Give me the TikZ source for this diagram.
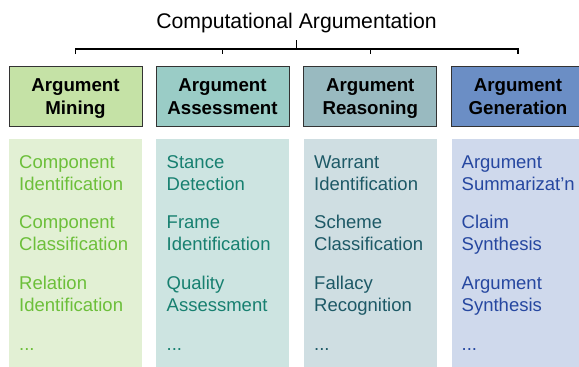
\documentclass[tikz,border=0pt]{standalone}
\usepackage{fontspec}
\setmainfont{Liberation Sans}
\definecolor{hA}{HTML}{C5E2A6}
\definecolor{pA}{HTML}{E2F0D4}
\definecolor{tA}{HTML}{6CBF3A}
\definecolor{hB}{HTML}{9ACCC6}
\definecolor{pB}{HTML}{CDE4E1}
\definecolor{tB}{HTML}{178070}
\definecolor{hC}{HTML}{99BAC0}
\definecolor{pC}{HTML}{CFDEE2}
\definecolor{tC}{HTML}{1D5966}
\definecolor{hD}{HTML}{6B8EC5}
\definecolor{pD}{HTML}{CFD9EC}
\definecolor{tD}{HTML}{2647A0}
\tikzset{
  headbox/.style={draw=black!80, line width=1pt, minimum width=133pt, minimum height=60.5pt, inner sep=0pt, align=center, font=\bfseries\fontsize{18.7}{23}\selectfont},
  panel/.style={minimum width=133pt, minimum height=229pt, inner sep=0pt, anchor=north west},
  item/.style={anchor=base west, inner sep=0pt, font=\fontsize{18.5}{22}\selectfont},
  bracket/.style={line width=1.6pt}
}
\begin{document}
\begin{tikzpicture}[x=1pt,y=-1pt]
\clip (0,0) rectangle (579,367);
\fill[white] (0,0) rectangle (579,367);
\node[anchor=base, inner sep=0pt, font=\fontsize{21.2}{25}\selectfont] (title) at (296.5,28.3) {Computational Argumentation};
% headers
\node[headbox, fill=hA] (h1) at (75.5,96.3) {Argument\\\smash{Mining}};
\node[headbox, fill=hB] (h2) at (222.5,96.3) {Argument\\\smash{Assessment}};
\node[headbox, fill=hC] (h3) at (370.3,96.3) {Argument\\\smash{Reasoning}};
\node[headbox, fill=hD] (h4) at (518,96.3) {Argument\\\smash{Generation}};
% panels
\node[panel, fill=pA] (p1) at (9,138.3) {};
\node[panel, fill=pB] (p2) at (156,138.3) {};
\node[panel, fill=pC] (p3) at (304,138.3) {};
\node[panel, fill=pD] (p4) at (451.5,138.3) {};
% bracket
\coordinate (top) at (296.5,40);
\coordinate (bar) at (296.5,49);
\coordinate (b1) at (h1.north |- bar);
\coordinate (b4) at (h4.north |- bar);
\draw[bracket] (top) -- (bar);
\draw[bracket] ([yshift=-5pt]b1) -- (b1) -- (b4) -- ([yshift=-5pt]b4);
\draw[bracket] (h2.north |- bar) -- ([yshift=-5pt]h2.north |- bar);
\draw[bracket] (h3.north |- bar) -- ([yshift=-5pt]h3.north |- bar);
% items
\node[item, text=tA] (a1) at (19,168) {Component};
\node[item, text=tA] (a2) at (19,190) {Identification};
\node[item, text=tA] (a3) at (19,228.5) {Component};
\node[item, text=tA] (a4) at (19,250.5) {Classification};
\node[item, text=tA] (a5) at (19,289) {Relation};
\node[item, text=tA] (a6) at (19,311) {Identification};
\node[item, text=tA] (a7) at (19,350) {...};
\node[item, text=tB] (c1) at (166.5,168) {Stance};
\node[item, text=tB] (c2) at (166.5,190) {Detection};
\node[item, text=tB] (c3) at (166.5,228.5) {Frame};
\node[item, text=tB] (c4) at (166.5,250.5) {Identification};
\node[item, text=tB] (c5) at (166.5,289) {Quality};
\node[item, text=tB] (c6) at (166.5,311) {Assessment};
\node[item, text=tB] (c7) at (166.5,350) {...};
\node[item, text=tC] (d1) at (314,168) {Warrant};
\node[item, text=tC] (d2) at (314,190) {Identification};
\node[item, text=tC] (d3) at (314,228.5) {Scheme};
\node[item, text=tC] (d4) at (314,250.5) {Classification};
\node[item, text=tC] (d5) at (314,289) {Fallacy};
\node[item, text=tC] (d6) at (314,311) {Recognition};
\node[item, text=tC] (d7) at (314,350) {...};
\node[item, text=tD] (e1) at (461.5,168) {Argument};
\node[item, text=tD] (e2) at (461.5,190) {Summarizat’n};
\node[item, text=tD] (e3) at (461.5,228.5) {Claim};
\node[item, text=tD] (e4) at (461.5,250.5) {Synthesis};
\node[item, text=tD] (e5) at (461.5,289) {Argument};
\node[item, text=tD] (e6) at (461.5,311) {Synthesis};
\node[item, text=tD] (e7) at (461.5,350) {...};
\end{tikzpicture}
\end{document}
